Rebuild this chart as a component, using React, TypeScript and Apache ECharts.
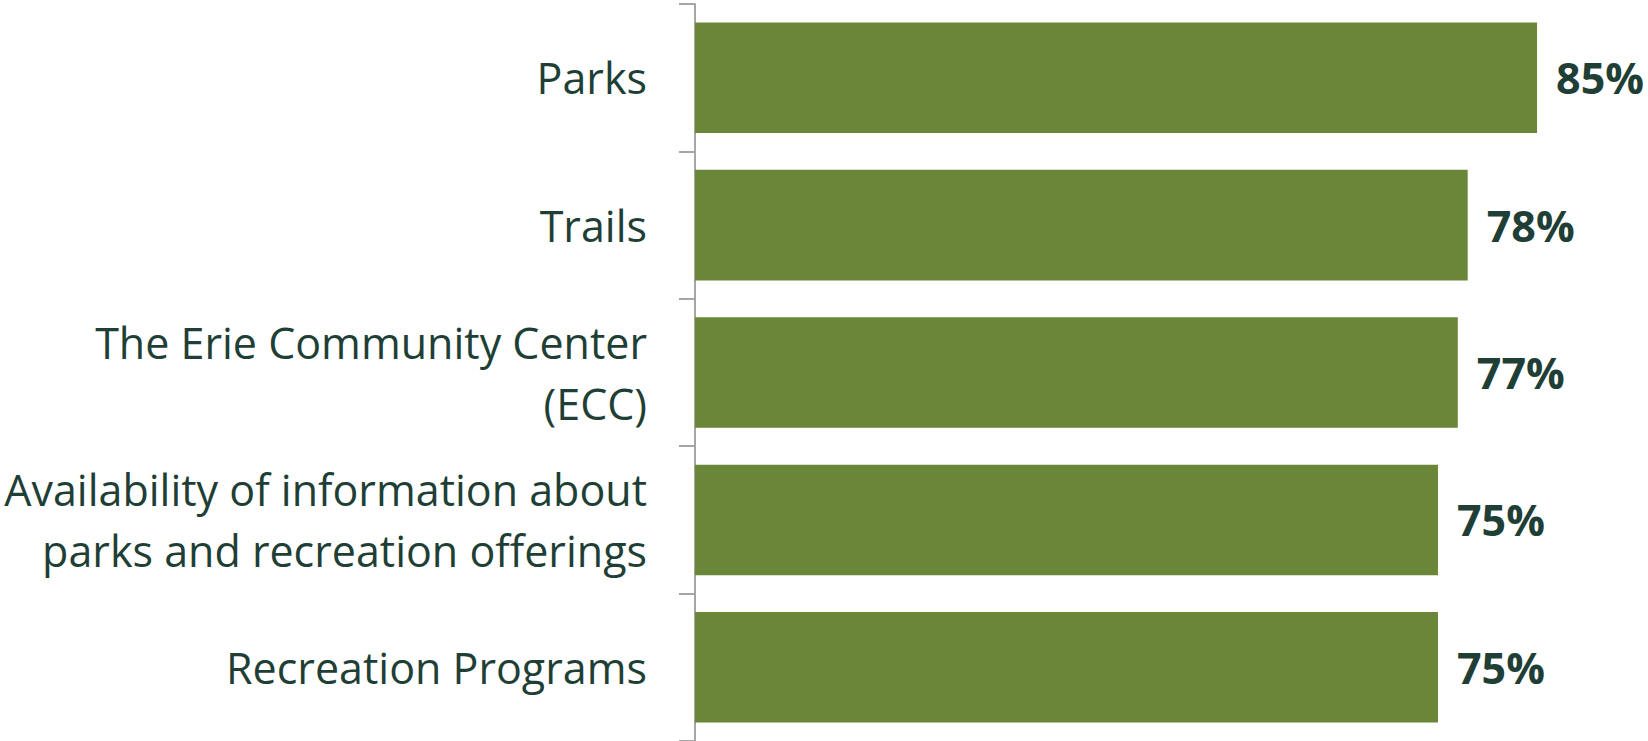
import React, { useEffect, useRef } from "react";
import * as echarts from "echarts";

const categories = [
  "Parks",
  "Trails",
  "The Erie Community Center\n(ECC)",
  "Availability of information about\nparks and recreation offerings",
  "Recreation Programs",
];
const values = [85, 78, 77, 75, 75];

export default function App() {
  const ref = useRef<HTMLDivElement>(null);
  useEffect(() => {
    if (!ref.current) return;
    const chart = echarts.init(ref.current, null, { renderer: "svg" });
    chart.setOption({
      animation: false,
      backgroundColor: "#ffffff",
      grid: { left: 695, top: 4, right: 0, height: 738, containLabel: false },
      xAxis: {
        type: "value",
        min: 0,
        max: 96.2,
        show: false,
      },
      yAxis: {
        type: "category",
        data: categories,
        inverse: true,
        axisLine: { show: true, lineStyle: { color: "#a6a6a6", width: 2 } },
        axisTick: { show: true, length: 16, lineStyle: { color: "#a6a6a6", width: 2 } },
        axisLabel: {
          margin: 48,
          fontFamily: "Open Sans",
          fontSize: 43,
          color: "#1f3f36",
          align: "right",
          lineHeight: 61,
        },
      },
      series: [
        {
          type: "bar",
          data: values,
          barCategoryGap: "25%",
          itemStyle: { color: "#6a8638" },
          label: {
            show: true,
            position: "right",
            distance: 19,
            formatter: "{c}%",
            fontFamily: "Open Sans",
            fontWeight: "bold",
            fontSize: 43,
            color: "#1f3f36",
          },
        },
      ],
    });
    return () => chart.dispose();
  }, []);
  return (
    <div
      ref={ref}
      style={{ position: "fixed", left: 0, top: 0, width: 1648, height: 741 }}
    />
  );
}
